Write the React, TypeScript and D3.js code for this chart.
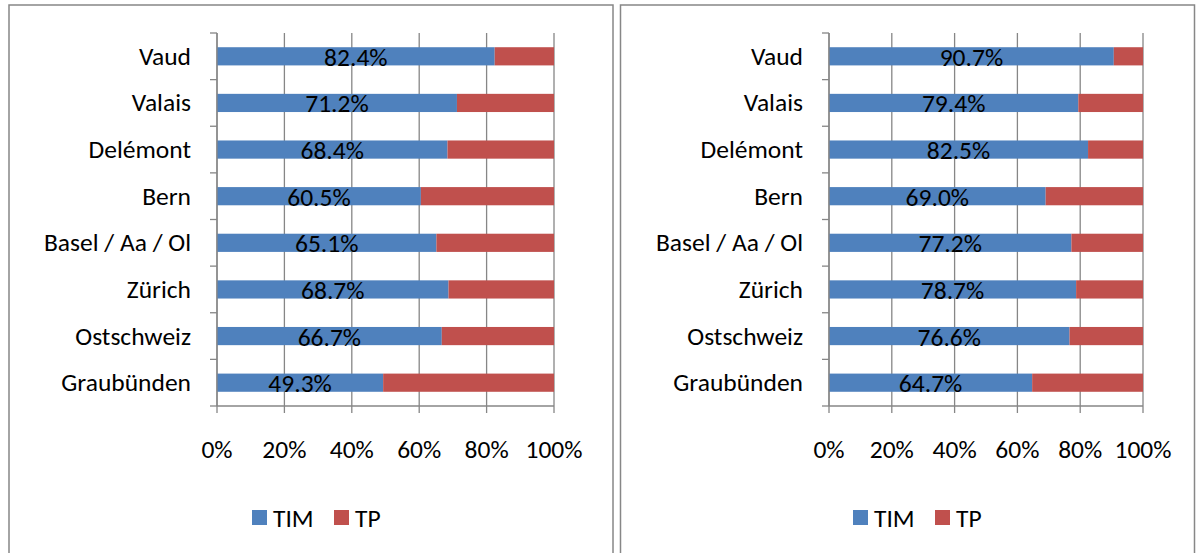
import React from "react";
import * as d3 from "d3";

const regions = [
  "Vaud",
  "Valais",
  "Delémont",
  "Bern",
  "Basel / Aa / Ol",
  "Zürich",
  "Ostschweiz",
  "Graubünden",
];
const timLeft = [82.4, 71.2, 68.4, 60.5, 65.1, 68.7, 66.7, 49.3];
const timRight = [90.7, 79.4, 82.5, 69.0, 77.2, 78.7, 76.6, 64.7];
const xTicks = [0, 20, 40, 60, 80, 100];
const seriesNames = ["TIM", "TP"];

const colors = ["#4F81BD", "#C0504D"];
const font = "Carlito, Calibri, Lato, sans-serif";
const fs = 25.5;

interface PanelProps {
  box: { x: number; y: number; w: number; h: number };
  x0: number;
  x1: number;
  tim: number[];
  legendX: number;
}

const Panel = ({ box, x0, x1, tim, legendX }: PanelProps) => {
  const top = 33;
  const bottom = 406;
  const x = d3.scaleLinear().domain([0, 100]).range([x0, x1]);
  const y = d3.scaleBand().domain(regions).range([top, bottom]).paddingInner(0.61).paddingOuter(0.305);
  const rows = regions.map((r, i) => ({ r, stack: [tim[i], 100 - tim[i]] }));
  const stacked = rows.map((row) => {
    let acc = 0;
    return row.stack.map((v) => {
      const s = acc;
      acc += v;
      return [s, acc];
    });
  });
  const bandStep = (bottom - top) / regions.length;
  const tickYs = d3.range(regions.length + 1).map((i) => top + i * bandStep);

  return (
    <g>
      <rect x={box.x} y={box.y} width={box.w} height={box.h} fill="#fff" stroke="#878787" strokeWidth={1.5} />
      {xTicks.map((t) => (
        <line key={"g" + t} x1={x(t)} x2={x(t)} y1={top} y2={bottom + 7} stroke="#868686" strokeWidth={1.3} />
      ))}
      {regions.map((r, i) =>
        stacked[i].map(([a, b], k) => (
          <rect key={r + k} x={x(a)} y={y(r)} width={x(b) - x(a)} height={y.bandwidth()} fill={colors[k]} />
        ))
      )}
      <line x1={x0} x2={x0} y1={top} y2={bottom} stroke="#868686" strokeWidth={1.3} />
      <line x1={x0} x2={x1} y1={bottom} y2={bottom} stroke="#868686" strokeWidth={1.3} />
      {tickYs.map((ty, i) => (
        <line key={"t" + i} x1={x0 - 7} x2={x0} y1={ty} y2={ty} stroke="#868686" strokeWidth={1.3} />
      ))}
      {regions.map((r) => (
        <text key={"l" + r} x={x0 - 26} y={y(r)! + y.bandwidth() / 2} textAnchor="end" dominantBaseline="central" fontSize={fs} fontFamily={font} fill="#000">
          {r}
        </text>
      ))}
      {regions.map((r, i) => (
        <text key={"v" + r} x={(x(0) + x(tim[i])) / 2} y={y(r)! + y.bandwidth() / 2 + 1} textAnchor="middle" dominantBaseline="central" fontSize={fs} fontFamily={font} fill="#000">
          {d3.format(".1f")(tim[i]) + "%"}
        </text>
      ))}
      {xTicks.map((t) => (
        <text key={"x" + t} x={x(t)} y={449} textAnchor="middle" dominantBaseline="central" fontSize={fs} fontFamily={font} fill="#000">
          {t + "%"}
        </text>
      ))}
      {seriesNames.map((s, k) => (
        <g key={s} transform={`translate(${legendX + k * 82},510)`}>
          <rect x={0} y={0} width={15} height={15} fill={colors[k]} />
          <text x={21} y={8} dominantBaseline="central" fontSize={fs} fontFamily={font} fill="#000">
            {s}
          </text>
        </g>
      ))}
    </g>
  );
};

export default function App() {
  return (
    <svg width={1198} height={553} style={{ position: "absolute", left: 0, top: 0, background: "#fff" }}>
      <Panel box={{ x: 9, y: 5, w: 604, h: 560 }} x0={217} x1={554} tim={timLeft} legendX={252} />
      <Panel box={{ x: 620.5, y: 5, w: 574, h: 560 }} x0={829} x1={1143} tim={timRight} legendX={853} />
    </svg>
  );
}
